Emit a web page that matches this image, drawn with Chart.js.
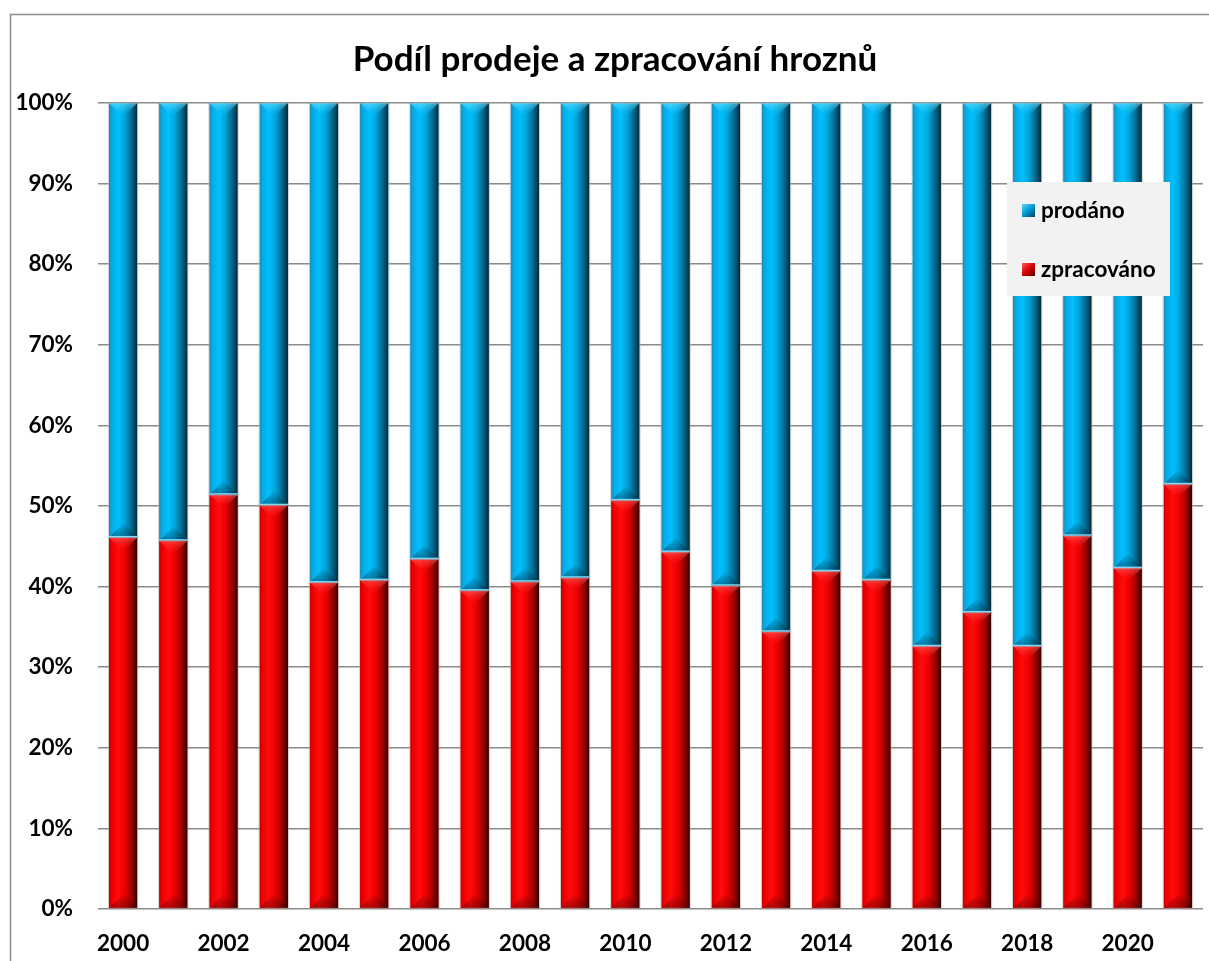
<!DOCTYPE html>
<html><head><meta charset="utf-8">
<script src="https://cdn.jsdelivr.net/npm/chart.js@4/dist/chart.umd.min.js"></script>
<style>html,body{margin:0;padding:0;background:#fff;overflow:hidden}#wrap{width:1209px;height:961px;position:relative}</style>
</head><body><div id="wrap"><canvas id="c" width="1209" height="961"></canvas></div>
<script>
const chartTitle = 'Podíl prodeje a zpracování hroznů';
const years = ['2000','2001','2002','2003','2004','2005','2006','2007','2008','2009','2010','2011','2012','2013','2014','2015','2016','2017','2018','2019','2020','2021'];
const zpracovano = [46.1,45.7,51.4,50.1,40.5,40.8,43.4,39.5,40.6,41.1,50.7,44.3,40.1,34.4,41.9,40.8,32.6,36.8,32.6,46.3,42.3,52.7];
const prodano = [53.9,54.3,48.6,49.9,59.5,59.2,56.6,60.5,59.4,58.9,49.3,55.7,59.9,65.6,58.1,59.2,67.4,63.2,67.4,53.7,57.7,47.3];
const yTicks = [0,10,20,30,40,50,60,70,80,90,100];
const seriesNames = ['zpracováno','prodáno'];

const FONT = 'Lato, "Open Sans", sans-serif';
const BLUE = '#00AEEF', RED = '#FF0000';
const blueStops = [[0,'#1a8dbd'],[0.12,'#07ace6'],[0.33,'#00c0ff'],[0.55,'#00a4da'],[0.75,'#00739c'],[0.9,'#044863'],[1,'#0c2530']];
const redStops = [[0,'#c60000'],[0.12,'#f00000'],[0.33,'#ff0c0c'],[0.55,'#ec0000'],[0.75,'#ad0000'],[0.9,'#680000'],[1,'#2a0000']];

function hGrad(ctx,x0,x1,stops){const g=ctx.createLinearGradient(x0,0,x1,0);stops.forEach(s=>g.addColorStop(s[0],s[1]));return g;}
function vGrad(ctx,y0,y1,c0,c1){const g=ctx.createLinearGradient(0,y0,0,y1);g.addColorStop(0,c0);g.addColorStop(1,c1);return g;}

const framePlugin = {
  id:'frame',
  afterLayout(chart){
    if(chart.titleBlock){chart.titleBlock.left=28;chart.titleBlock.right=1202;}
  },
  beforeDraw(chart){
    const ctx=chart.ctx;ctx.save();
    ctx.fillStyle='#fff';ctx.fillRect(0,0,chart.width,chart.height);
    ctx.strokeStyle='#8c8c8c';ctx.lineWidth=1.5;
    ctx.beginPath();ctx.moveTo(10.5,chart.height);ctx.lineTo(10.5,14.5);ctx.lineTo(chart.width,14.5);ctx.stroke();
    ctx.restore();
  }
};

const barLook = {
  id:'barLook',
  afterDatasetsDraw(chart){
    const ctx=chart.ctx;
    chart.data.datasets.forEach((ds,di)=>{
      const meta=chart.getDatasetMeta(di);
      const isBlue = di===1;
      meta.data.forEach(el=>{
        const w=el.width, x0=el.x-w/2, x1=el.x+w/2, cx=el.x;
        const top=Math.min(el.y,el.base), bot=Math.max(el.y,el.base), h=bot-top;
        ctx.save();
        ctx.beginPath();ctx.rect(x0,top,w,h);ctx.clip();
        ctx.fillStyle=hGrad(ctx,x0,x1,isBlue?blueStops:redStops);
        ctx.fillRect(x0,top,w,h);
        const d=Math.min(w/2,h/2);
        ctx.beginPath();ctx.moveTo(x0,top);ctx.lineTo(x1,top);ctx.lineTo(cx,top+d);ctx.closePath();
        ctx.fillStyle=vGrad(ctx,top,top+d,isBlue?'rgba(120,230,255,0.6)':'rgba(255,110,110,0.55)',isBlue?'rgba(0,190,255,0)':'rgba(255,0,0,0)');
        ctx.fill();
        ctx.beginPath();ctx.moveTo(x0,bot);ctx.lineTo(x1,bot);ctx.lineTo(cx,bot-d);ctx.closePath();
        ctx.fillStyle=vGrad(ctx,bot,bot-d,isBlue?'rgba(0,45,70,0.45)':'rgba(60,0,0,0.4)','rgba(0,0,0,0)');
        ctx.fill();
        if(isBlue){ctx.fillStyle='#7fdcff';ctx.fillRect(x0,bot-1.5,w,1.5);}
        ctx.restore();
        ctx.save();ctx.strokeStyle='rgba(175,175,175,0.55)';ctx.lineWidth=1;
        ctx.strokeRect(x0-0.5,top,w+1,h);ctx.restore();
      });
    });
  }
};

const legendBox = {
  id:'legendBox',
  afterDraw(chart){
    const ctx=chart.ctx;ctx.save();
    ctx.fillStyle='#F2F2F2';ctx.fillRect(1007,182,163,114);
    const items=[{ds:1,y:211},{ds:0,y:270}];
    items.forEach(it=>{
      const blue=it.ds===1;
      const g=ctx.createLinearGradient(1022,it.y-7,1035,it.y+7);
      if(blue){g.addColorStop(0,'#5fd3ff');g.addColorStop(0.5,'#0096cc');g.addColorStop(1,'#0b3a4d');}
      else{g.addColorStop(0,'#ff5a5a');g.addColorStop(0.5,'#d40000');g.addColorStop(1,'#4a0000');}
      ctx.fillStyle=g;ctx.fillRect(1022,it.y-7,13,13);
      ctx.fillStyle='#000';ctx.font='bold 22.5px '+FONT;ctx.textBaseline='middle';ctx.textAlign='left';
      ctx.fillText(chart.data.datasets[it.ds].label,1041,it.y);
    });
    ctx.restore();
  }
};

new Chart(document.getElementById('c'),{
  type:'bar',
  data:{labels:years,datasets:[
    {label:seriesNames[0],data:zpracovano,backgroundColor:RED,borderWidth:0,categoryPercentage:1,barPercentage:0.566},
    {label:seriesNames[1],data:prodano,backgroundColor:BLUE,borderWidth:0,categoryPercentage:1,barPercentage:0.566}
  ]},
  options:{
    responsive:false,devicePixelRatio:1,animation:false,
    layout:{padding:{left:0,right:6,top:0,bottom:0}},
    plugins:{
      legend:{display:false},tooltip:{enabled:false},
      title:{display:true,text:chartTitle,color:'#000',font:{family:FONT,size:35,weight:'bold'},padding:{top:39,bottom:22}}
    },
    scales:{
      x:{stacked:true,grid:{display:false},border:{display:false},
        ticks:{color:'#000',font:{family:FONT,size:22.5,weight:'bold'},padding:13,autoSkip:false,maxRotation:0,
          callback:(v,i)=> i%2===0?years[i]:''},
        afterFit:s=>{s.height=52;}},
      y:{stacked:true,min:0,max:100,
        afterBuildTicks:s=>{s.ticks=yTicks.map(v=>({value:v}));},
        ticks:{color:'#000',font:{family:FONT,size:22.5,weight:'bold'},padding:25,callback:v=>v+'%'},
        grid:{color:'#8a8a8a',lineWidth:1.5,drawTicks:false},border:{display:false},
        afterFit:s=>{s.width=98;}}
    }
  },
  plugins:[framePlugin,barLook,legendBox]
});
</script></body></html>
